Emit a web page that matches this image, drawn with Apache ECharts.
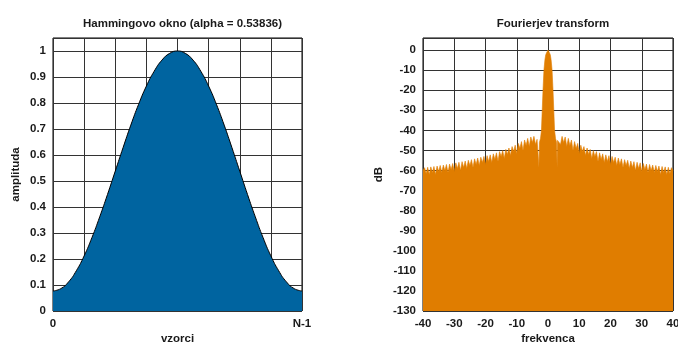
<!DOCTYPE html>
<html>
<head>
<meta charset="utf-8">
<script src="https://cdn.jsdelivr.net/npm/echarts@6/dist/echarts.min.js"></script>
<style>
  html, body { margin: 0; padding: 0; background: #fff; }
  #chart { width: 678px; height: 343px; }
</style>
</head>
<body>
<div id="chart"></div>
<script>
// Hamming window (x in 0..8 grid units, 8 = N-1)
const windowX = [0, 0.25, 0.5, 0.75, 1, 1.25, 1.5, 1.75, 2, 2.25, 2.5, 2.75, 3, 3.25, 3.5, 3.75, 4,
  4.25, 4.5, 4.75, 5, 5.25, 5.5, 5.75, 6, 6.25, 6.5, 6.75, 7, 7.25, 7.5, 7.75, 8]
const windowAmp = [0.077, 0.086, 0.112, 0.155, 0.212, 0.282, 0.362, 0.448, 0.538, 0.628, 0.715, 0.795,
  0.865, 0.922, 0.965, 0.991, 1.0, 0.991, 0.965, 0.922, 0.865, 0.795, 0.715, 0.628, 0.538, 0.448,
  0.362, 0.282, 0.212, 0.155, 0.112, 0.086, 0.077]

// spectrum, right half (mirrored for the left half)
const mainLobeX = [0, 0.5, 0.75, 1.0, 1.3, 1.6, 1.85, 2.1, 2.4, 2.75, 2.9, 3.05]
const mainLobeDb = [0, -1.5, -2.5, -5, -10, -20, -30, -40, -44, -46, -58.5, -45]
const sidelobePeakX = [3.5, 4.5, 5.5, 6.5, 7.5, 8.5, 9.5, 10.5, 11.5, 12.5, 13.5, 14.5, 15.5, 16.5,
  17.5, 18.5, 19.5, 20.5, 21.5, 22.5, 23.5, 24.5, 25.5, 26.5, 27.5, 28.5, 29.5, 30.5, 31.5, 32.5,
  33.5, 34.5, 35.5, 36.5, 37.5, 38.5, 39.5]
const sidelobePeakDb = [-44.5, -43.0, -43.3, -44.0, -44.8, -45.6, -46.5, -47.4, -48.1, -48.8, -49.5,
  -50.1, -50.6, -51.2, -51.7, -52.2, -52.6, -53.0, -53.4, -53.8, -54.2, -54.6, -54.9, -55.3, -55.6,
  -55.9, -56.2, -56.5, -56.8, -57.0, -57.3, -57.5, -57.8, -58.0, -58.2, -58.4, -58.6]
const sidelobeDipX = [4, 5, 6, 7, 8, 9, 10, 11, 12, 13, 14, 15, 16, 17, 18, 19, 20, 21, 22, 23, 24,
  25, 26, 27, 28, 29, 30, 31, 32, 33, 34, 35, 36, 37, 38, 39, 40]
const sidelobeDipDb = [-47, -46, -48, -47.5, -50, -49, -51.5, -50.5, -52.5, -52, -54, -53, -55.5,
  -54.5, -56, -55.5, -57, -56, -57.5, -57, -58.5, -57.5, -59, -58.5, -60, -59, -60.5, -59.5, -61,
  -60, -61, -60.5, -62, -61, -62, -61.5, -60]

const rightHalf = mainLobeX.map((x, i) => [x, mainLobeDb[i]])
sidelobePeakX.forEach((x, i) => {
  rightHalf.push([x, sidelobePeakDb[i]])
  rightHalf.push([sidelobeDipX[i], sidelobeDipDb[i]])
})
const spectrum = rightHalf.slice(1).map(p => [-p[0], p[1]]).reverse().concat(rightHalf)

const FONT = "'Liberation Sans', Arial, sans-serif"
const txt = { color: '#1a1a1a', fontFamily: FONT, fontWeight: 'bold', fontSize: 11.5 }
const gridLine = { show: true, lineStyle: { color: '#333', width: 1 } }

const chart = echarts.init(document.getElementById('chart'))
chart.setOption({
  animation: false,
  title: [
    { text: 'Hammingovo okno (alpha = 0.53836)', left: 177.5, textAlign: 'center', top: 13,
      textStyle: { ...txt } },
    { text: 'Fourierjev transform', left: 548, textAlign: 'center', top: 13,
      textStyle: { ...txt } },
  ],
  grid: [
    { left: 53, top: 38, width: 249, height: 273, show: true, borderColor: '#000', borderWidth: 1,
      containLabel: false, outerBoundsMode: 'none' },
    { left: 423, top: 38, width: 250, height: 273, show: true, borderColor: '#000', borderWidth: 1,
      containLabel: false, outerBoundsMode: 'none' },
  ],
  xAxis: [
    {
      gridIndex: 0, type: 'value', min: 0, max: 8, interval: 1,
      name: 'vzorci', nameLocation: 'middle', nameGap: 22, nameMoveOverlap: false,
      nameTextStyle: { ...txt },
      axisLine: { show: false }, axisTick: { show: false },
      axisLabel: { ...txt, margin: 7, formatter: v => (v === 0 ? '0' : v === 8 ? 'N-1' : '') },
      splitLine: gridLine,
    },
    {
      gridIndex: 1, type: 'value', min: -40, max: 40, interval: 10,
      name: 'frekvenca', nameLocation: 'middle', nameGap: 22, nameMoveOverlap: false,
      nameTextStyle: { ...txt },
      axisLine: { show: false }, axisTick: { show: false },
      axisLabel: { ...txt, margin: 7 },
      splitLine: gridLine,
    },
  ],
  yAxis: [
    {
      gridIndex: 0, type: 'value', min: 0, max: 1.05, interval: 0.1,
      name: 'amplituda', nameLocation: 'middle', nameGap: 31, nameMoveOverlap: false,
      nameTextStyle: { ...txt },
      axisLine: { show: false }, axisTick: { show: false },
      axisLabel: { ...txt, margin: 7, showMaxLabel: false,
        formatter: v => (v > 1.001 ? '' : String(Math.round(v * 10) / 10)) },
      splitLine: gridLine,
    },
    {
      gridIndex: 1, type: 'value', min: -130, max: 6, interval: 10,
      name: 'dB', nameLocation: 'middle', nameGap: 38, nameMoveOverlap: false,
      nameTextStyle: { ...txt },
      axisLine: { show: false }, axisTick: { show: false },
      axisLabel: { ...txt, margin: 7, showMaxLabel: false,
        formatter: v => (v > 0 ? '' : String(v)) },
      splitLine: gridLine,
    },
  ],
  series: [
    {
      type: 'line', xAxisIndex: 0, yAxisIndex: 0,
      data: windowX.map((x, i) => [x, windowAmp[i]]),
      smooth: true, symbol: 'none',
      lineStyle: { color: '#000', width: 1 },
      areaStyle: { color: '#0064a0', opacity: 1, origin: 'start' },
    },
    {
      type: 'line', xAxisIndex: 1, yAxisIndex: 1,
      data: spectrum, symbol: 'none',
      lineStyle: { color: '#e07d00', width: 0.6 },
      areaStyle: { color: '#e07d00', opacity: 1, origin: 'start' },
    },
  ],
})
</script>
</body>
</html>
